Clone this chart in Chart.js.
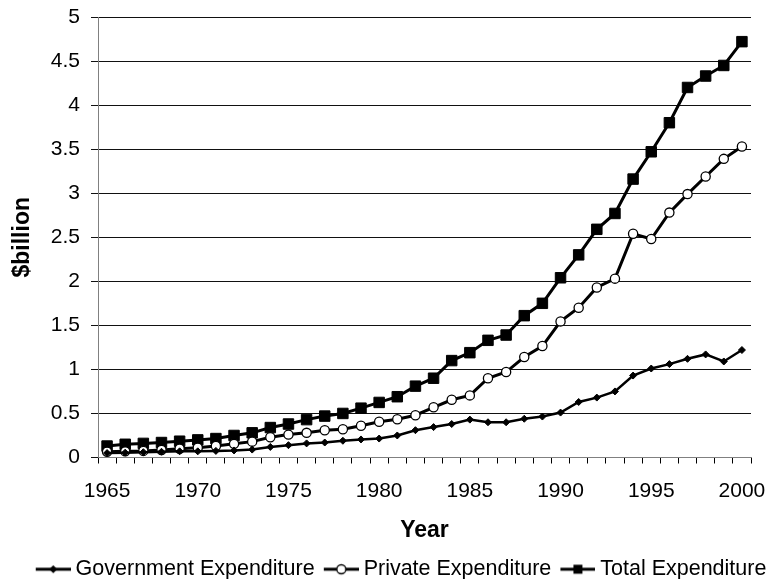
<!DOCTYPE html>
<html>
<head>
<meta charset="utf-8">
<script src="https://cdn.jsdelivr.net/npm/chart.js@4"></script>
<style>
  html, body { margin: 0; padding: 0; background: #fff; }
  #wrap { width: 769px; height: 579px; }
</style>
</head>
<body>
<div id="wrap"><canvas id="chart" width="769" height="579"></canvas></div>
<script>
// categories
const years = [1965, 1966, 1967, 1968, 1969, 1970, 1971, 1972, 1973, 1974, 1975, 1976,
  1977, 1978, 1979, 1980, 1981, 1982, 1983, 1984, 1985, 1986, 1987, 1988,
  1989, 1990, 1991, 1992, 1993, 1994, 1995, 1996, 1997, 1998, 1999, 2000];

// $billion
const govValues = [0.05, 0.055, 0.06, 0.065, 0.07, 0.07, 0.075, 0.08, 0.09, 0.12, 0.14, 0.16,
  0.17, 0.19, 0.205, 0.215, 0.25, 0.31, 0.345, 0.38, 0.43, 0.40, 0.40, 0.44,
  0.465, 0.51, 0.63, 0.68, 0.75, 0.93, 1.01, 1.06, 1.12, 1.17, 1.09, 1.22];
const privateValues = [0.065, 0.07, 0.075, 0.085, 0.10, 0.11, 0.13, 0.155, 0.18, 0.23, 0.26, 0.28,
  0.31, 0.32, 0.36, 0.405, 0.435, 0.48, 0.57, 0.655, 0.705, 0.90, 0.97, 1.14,
  1.265, 1.545, 1.70, 1.93, 2.03, 2.54, 2.48, 2.78, 2.99, 3.19, 3.39, 3.53];
const totalValues = [0.13, 0.15, 0.16, 0.17, 0.185, 0.20, 0.215, 0.25, 0.28, 0.34, 0.38, 0.43,
  0.47, 0.50, 0.56, 0.625, 0.69, 0.81, 0.90, 1.10, 1.19, 1.33, 1.39, 1.61,
  1.75, 2.04, 2.30, 2.59, 2.77, 3.16, 3.47, 3.80, 4.20, 4.33, 4.45, 4.72];

const seriesLabels = ['Government Expenditure', 'Private Expenditure', 'Total Expenditure'];
const yTicks = { min: 0, max: 5, step: 0.5 };

Chart.defaults.font.family = "'Liberation Sans', Arial, sans-serif";
Chart.defaults.color = '#000';

// legend icons: a short line with the series marker, sitting right of centre in a 46px image
function makeIcon(kind) {
  const c = document.createElement('canvas');
  c.width = 46; c.height = 14;
  const g = c.getContext('2d');
  const x0 = 11, cx = 28.5;
  g.strokeStyle = '#000';
  g.lineWidth = 3;
  g.beginPath(); g.moveTo(x0, 7); g.lineTo(x0 + 35, 7); g.stroke();
  g.fillStyle = '#000';
  if (kind === 'diamond') {
    g.beginPath(); g.moveTo(cx, 3); g.lineTo(cx + 4, 7); g.lineTo(cx, 11); g.lineTo(cx - 4, 7); g.closePath(); g.fill();
  } else if (kind === 'circle') {
    g.fillStyle = '#fff'; g.lineWidth = 1.3;
    g.beginPath(); g.arc(cx, 7, 4.5, 0, Math.PI * 2); g.fill(); g.stroke();
  } else {
    g.fillRect(cx - 4.5, 2.5, 9, 9);
  }
  return c;
}
const icons = [makeIcon('diamond'), makeIcon('circle'), makeIcon('square')];

// nudge the legend row to the right, as in the original
const legendShift = {
  id: 'legendShift',
  afterLayout(chart) {
    chart.legend.left += 23;
    chart.legend.right += 23;
  }
};

new Chart(document.getElementById('chart').getContext('2d'), {
  type: 'line',
  data: {
    labels: years,
    datasets: [{
      label: seriesLabels[0],
      data: govValues,
      borderColor: '#000',
      borderWidth: 2.5,
      pointStyle: 'rectRot',
      pointRadius: 3.5,
      pointBackgroundColor: '#000',
      pointBorderColor: '#000',
      pointBorderWidth: 1,
      tension: 0
    }, {
      label: seriesLabels[1],
      data: privateValues,
      borderColor: '#000',
      borderWidth: 3,
      pointStyle: 'circle',
      pointRadius: 4.6,
      pointBackgroundColor: '#fff',
      pointBorderColor: '#000',
      pointBorderWidth: 1.3,
      tension: 0
    }, {
      label: seriesLabels[2],
      data: totalValues,
      borderColor: '#000',
      borderWidth: 3,
      pointStyle: 'rect',
      pointRadius: 7.4,
      pointBackgroundColor: '#000',
      pointBorderColor: '#000',
      pointBorderWidth: 1,
      tension: 0
    }]
  },
  options: {
    responsive: false,
    animation: false,
    devicePixelRatio: 1,
    layout: { padding: { top: 17, right: 18, bottom: -11, left: 0 } },
    plugins: {
      tooltip: { enabled: false },
      legend: {
        position: 'bottom',
        labels: {
          usePointStyle: true,
          pointStyleWidth: 34.25,
          padding: 4,
          color: '#000',
          font: { size: 21.5 },
          generateLabels: (chart) => chart.data.datasets.map((ds, i) => ({
            text: ds.label,
            pointStyle: icons[i],
            fillStyle: '#000',
            strokeStyle: '#000',
            lineWidth: 0,
            hidden: false,
            datasetIndex: i
          }))
        }
      }
    },
    scales: {
      x: {
        offset: true,
        grid: { offset: true, drawOnChartArea: false, drawTicks: true, tickLength: 6, color: '#000' },
        border: { color: '#808080' },
        ticks: {
          autoSkip: false,
          maxRotation: 0,
          padding: 2,
          color: '#000',
          // tall line box pushes the labels down without widening the right overhang
          font: { size: 21, lineHeight: 2.48 },
          callback: (v, i) => (years[i] % 5 === 0 ? String(years[i]) : '')
        },
        title: { display: true, text: 'Year', color: '#000', font: { size: 23, weight: 'bold' }, padding: { top: 0, bottom: 10 } },
        afterFit: (scale) => { scale.height = 97; }
      },
      y: {
        min: yTicks.min,
        max: yTicks.max,
        grid: { color: '#111', tickLength: 7 },
        border: { color: '#808080' },
        ticks: {
          stepSize: yTicks.step,
          padding: 11,
          color: '#000',
          font: { size: 21, lineHeight: 0.5 },
          callback: (v) => String(Math.round(v * 10) / 10)
        },
        title: { display: true, text: '$billion', color: '#000', font: { size: 23, weight: 'bold' }, padding: { top: 9, bottom: 0 } },
        afterFit: (scale) => { scale.width = 98; }
      }
    }
  },
  plugins: [legendShift]
});
</script>
</body>
</html>
